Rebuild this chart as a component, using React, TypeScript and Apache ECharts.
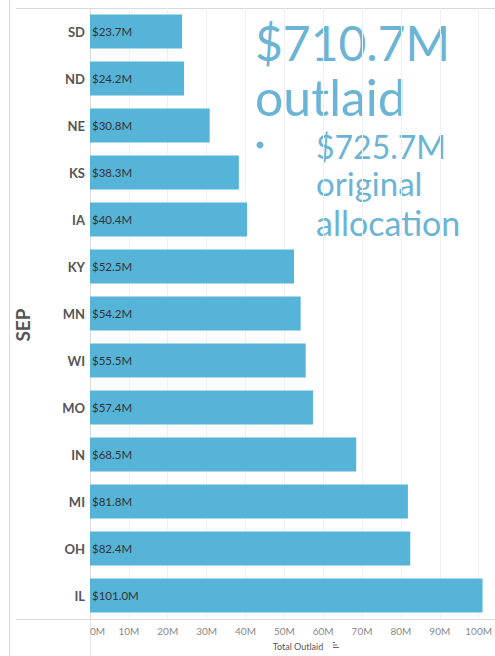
import React, { useEffect, useRef } from "react";
import * as echarts from "echarts";

const states = ["SD", "ND", "NE", "KS", "IA", "KY", "MN", "WI", "MO", "IN", "MI", "OH", "IL"];
const outlaid = [23.7, 24.2, 30.8, 38.3, 40.4, 52.5, 54.2, 55.5, 57.4, 68.5, 81.8, 82.4, 101.0];
const rowLabel = "SEP";
const axisTitle = "Total Outlaid";
const headline = ["$710.7M", "outlaid"];
const subline = ["$725.7M", "original", "allocation"];

const BAR = "#56b4d9";
const TEXT_BLUE = "#6cb4d6";

export default function App() {
  const ref = useRef<HTMLDivElement>(null);
  useEffect(() => {
    if (!ref.current) return;
    const chart = echarts.init(ref.current, null, { renderer: "svg" });
    chart.setOption({
      animation: false,
      backgroundColor: "#ffffff",
      grid: { left: 90, right: 4, top: 8, bottom: 37, containLabel: false },
      xAxis: {
        type: "value",
        min: 0,
        max: 103,
        interval: 10,
        axisLine: { show: false },
        axisTick: { show: false },
        splitLine: { show: true, showMaxLine: false, lineStyle: { color: "#f0f0f0", width: 1 } },
        axisLabel: {
          color: "#888",
          fontFamily: "Lato",
          fontSize: 10,
          margin: 7,
          showMaxLabel: false,
          alignMinLabel: "left",
          formatter: (v: number) => (v % 10 === 0 ? v + "M" : ""),
        },
      },
      yAxis: {
        type: "category",
        data: states,
        inverse: true,
        axisLine: { show: true, lineStyle: { color: "#d9d9d9" } },
        axisTick: { show: false },
        axisLabel: {
          color: "#555",
          fontFamily: "Lato",
          fontWeight: "bold",
          fontSize: 13,
          margin: 5,
        },
      },
      series: [
        {
          type: "bar",
          data: outlaid,
          barWidth: 34,
          itemStyle: { color: BAR },
          label: {
            show: true,
            position: "insideLeft",
            distance: 2,
            color: "#333",
            fontFamily: "Lato",
            fontSize: 11.5,
            formatter: (p: any) => "$" + Number(p.value).toFixed(1) + "M",
          },
        },
      ],
      graphic: [
        { type: "line", shape: { x1: 9.5, y1: 0, x2: 9.5, y2: 656 }, style: { stroke: "#d9d9d9", lineWidth: 1 }, silent: true },
        { type: "line", shape: { x1: 16, y1: 8.5, x2: 495, y2: 8.5 }, style: { stroke: "#d9d9d9", lineWidth: 1 }, silent: true },
        { type: "line", shape: { x1: 16, y1: 619.5, x2: 495, y2: 619.5 }, style: { stroke: "#d9d9d9", lineWidth: 1 }, silent: true },
        { type: "line", shape: { x1: 90.5, y1: 619, x2: 90.5, y2: 656 }, style: { stroke: "#e6e6e6", lineWidth: 1 }, silent: true },
        {
          type: "text",
          x: 22,
          y: 325,
          rotation: Math.PI / 2,
          style: { text: rowLabel, font: "bold 19px Lato", fill: "#555", align: "center", verticalAlign: "middle" },
        },
        {
          type: "text",
          x: 298,
          y: 646,
          style: { text: axisTitle, font: "9px Lato", fill: "#555", align: "center", verticalAlign: "middle" },
        },
        { type: "rect", shape: { x: 333, y: 642, width: 2, height: 1 }, style: { fill: "#666" } },
        { type: "rect", shape: { x: 333, y: 644.5, width: 4, height: 1 }, style: { fill: "#666" } },
        { type: "rect", shape: { x: 333, y: 647, width: 6, height: 1 }, style: { fill: "#666" } },
        {
          type: "text",
          x: 255,
          y: 42,
          style: { text: headline[0], font: "48px Lato", fill: TEXT_BLUE, align: "left", verticalAlign: "middle" },
        },
        {
          type: "text",
          x: 255,
          y: 97,
          style: { text: headline[1], font: "50px Lato", fill: TEXT_BLUE, align: "left", verticalAlign: "middle" },
        },
        { type: "circle", shape: { cx: 260, cy: 145, r: 3.5 }, style: { fill: TEXT_BLUE } },
        {
          type: "text",
          x: 316,
          y: 146,
          style: { text: subline[0], font: "32px Lato", fill: TEXT_BLUE, align: "left", verticalAlign: "middle" },
        },
        {
          type: "text",
          x: 316,
          y: 183,
          style: { text: subline[1], font: "33px Lato", fill: TEXT_BLUE, align: "left", verticalAlign: "middle" },
        },
        {
          type: "text",
          x: 316,
          y: 222,
          style: { text: subline[2], font: "34px Lato", fill: TEXT_BLUE, align: "left", verticalAlign: "middle" },
        },
      ],
    });
    return () => chart.dispose();
  }, []);
  return (
    <div
      ref={ref}
      style={{ position: "fixed", left: 0, top: 0, width: 495, height: 656 }}
    />
  );
}
